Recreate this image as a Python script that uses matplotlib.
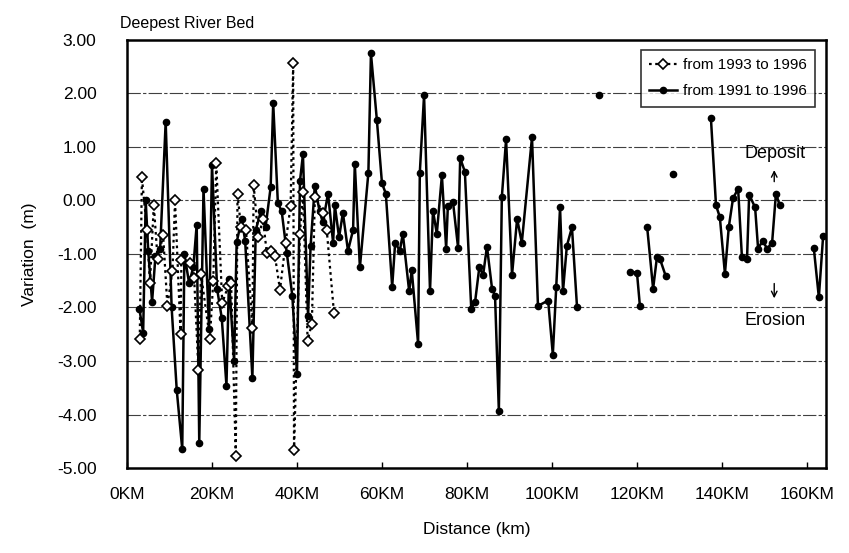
import numpy as np
import matplotlib.pyplot as plt

plt.rcParams['font.family'] = ['Liberation Sans', 'DejaVu Sans']

# from 1993 to 1996 (open diamonds, dotted)
km_93 = [3.0, 3.5, 4.7, 5.4, 6.3, 7.2, 8.5, 9.5, 10.7, 11.3, 12.6, 12.8, 14.8, 15.8,
         16.8, 17.4, 19.5, 20.3, 21.0, 22.4, 23.8, 24.5, 25.6, 26.0, 26.8, 28.0, 29.5,
         29.8, 30.9, 32.0, 32.9, 34.0, 34.8, 36.0, 37.3, 38.5, 39.1, 39.3, 40.7, 41.4,
         42.5, 43.5, 44.2, 46.1, 47.0, 48.7]
var_93 = [-2.58, 0.43, -0.56, -1.55, -0.08, -1.1, -0.65, -1.97, -1.31, 0.0, -2.49, -1.12,
          -1.16, -1.45, -3.16, -1.37, -2.58, -1.5, 0.7, -1.92, -1.6, -1.55, -4.78, 0.13,
          -0.5, -0.55, -2.38, 0.29, -0.69, -0.35, -0.99, -0.95, -1.03, -1.67, -0.8, -0.1,
          2.57, -4.67, -0.62, 0.15, -2.62, -2.3, 0.06, -0.23, -0.55, -2.1]

# from 1991 to 1996 (filled dots, solid); nan = gap in the record
km_91 = [2.9, 3.8, 4.4, 5.0, 5.9, 6.7, 7.8, 9.1, 10.5, 11.7, 13.0, 13.5, 14.6, 15.6,
         16.4, 17.0, 18.0, 19.3, 20.0, 21.2, 22.3, 23.4, 24.0, 25.2, 25.8, 27.0, 27.8,
         29.5, 30.3, 31.5, 32.6, 33.8, 34.4, 35.5, 36.4, 37.6, 38.9, 40.0, 40.7, 41.4,
         42.6, 43.2, 44.2, 45.3, 46.1, 47.3, 48.5, 48.9, 49.9, 50.8, 52.0, 53.2, 53.6,
         54.8, 56.8, 57.4, 58.8, 60.0, 60.9, 62.4, 63.1, 64.2, 64.9, 66.4, 67.0, 68.5,
         68.9, 69.9, 71.3, 72.0, 72.9, 74.1, 75.1, 75.5, 76.7, 77.9, 78.4, 79.5, 81.0,
         81.9, 82.9, 83.8, 84.7, 85.9, 86.6, 87.5, 88.2, 89.2, 90.6, 91.8, 92.9, 95.3,
         96.7, 99.1, 100.2, 101.0, 101.9, 102.6, 103.5, 104.7, 105.9, 108.0, 111.1,
         115.0, 118.4, 120.0, 120.7, 121.5, 122.4, 123.8, 124.7, 125.4, 126.8, 127.6,
         128.5, 133.0, 137.4, 138.6, 139.5, 140.7, 141.6, 142.6, 143.8, 144.7, 145.9,
         146.4, 147.8, 148.5, 149.6, 150.6, 151.8, 152.7, 153.6, 158.0, 161.6, 162.8,
         163.8]
var_91 = [-2.02, -2.47, 0.0, -0.95, -1.89, -1.03, -0.9, 1.47, -2.0, -3.54, -4.65, -1.0,
          -1.54, -1.25, -0.45, -4.53, 0.22, -2.41, 0.67, -1.65, -2.2, -3.46, -1.46, -3.0,
          -0.78, -0.35, -0.75, -3.31, -0.55, -0.2, -0.5, 0.25, 1.82, -0.05, -0.2, -0.98,
          -1.78, -3.24, 0.36, 0.86, -2.16, -0.85, 0.28, -0.2, -0.41, 0.13, -0.79, -0.09,
          -0.69, -0.23, -0.94, -0.55, 0.69, -1.25, 0.52, 2.75, 1.5, 0.32, 0.13, -1.61,
          -0.79, -0.94, -0.62, -1.7, -1.3, -2.68, 0.52, 1.97, -1.69, -0.19, -0.62, 0.47,
          -0.9, -0.1, -0.02, -0.88, 0.79, 0.54, -2.02, -1.9, -1.25, -1.39, -0.86, -1.65,
          -1.78, -3.93, 0.06, 1.14, -1.39, -0.34, -0.79, 1.18, -1.97, -1.87, -2.88, -1.62,
          -0.13, -1.69, -0.85, -0.5, -2.0, np.nan, 1.97, np.nan, -1.33, -1.35, -1.98,
          np.nan, -0.5, -1.65, -1.06, -1.09, -1.42, np.nan, 0.5, np.nan, 1.54, -0.09,
          -0.31, -1.37, -0.5, 0.04, 0.22, -1.06, -1.09, 0.11, -0.13, -0.9, -0.75, -0.9,
          -0.79, 0.13, -0.09, np.nan, -0.88, -1.81, -0.67]

x_ticks = [0, 20, 40, 60, 80, 100, 120, 140, 160]
x_labels = ['0KM', '20KM', '40KM', '60KM', '80KM', '100KM', '120KM', '140KM', '160KM']
y_ticks = [3, 2, 1, 0, -1, -2, -3, -4, -5]

fig = plt.figure(figsize=(8.49, 5.53), dpi=100)
ax = fig.add_axes([0.1496, 0.1537, 0.8234, 0.774])

for yv in y_ticks[1:-1]:
    ax.axhline(yv, color='0.25', lw=0.8, ls=(0, (12, 2, 3, 2)), zorder=0)

ax.plot(km_93, var_93, color='black', ls=(0, (1.2, 1.6)), lw=1.6, marker='D',
        ms=5, mfc='white', mec='black', mew=1.2, label='from 1993 to 1996', zorder=3)
ax.plot(km_91, var_91, color='black', ls='-', lw=1.8, marker='o', ms=4.5,
        mfc='black', mec='black', label='from 1991 to 1996', zorder=2)

ax.set_xlim(0, 164.5)
ax.set_ylim(-5, 3)
ax.set_xticks(x_ticks)
ax.set_xticklabels(x_labels)
ax.set_yticks(y_ticks)
ax.set_yticklabels(['%.2f' % v for v in y_ticks])
ax.tick_params(axis='x', direction='in', length=4, width=1, labelsize=12.5, pad=14)
ax.tick_params(axis='y', length=0, labelsize=12.5, pad=22)
for s in ax.spines.values():
    s.set_linewidth(1.8)

ax.set_xlabel('Distance (km)', fontsize=12.5, labelpad=14)
ax.set_ylabel('Variation  (m)', fontsize=12.5, labelpad=14)
ax.text(-0.01, 1.02, 'Deepest River Bed', transform=ax.transAxes, fontsize=11.5,
        ha='left', va='bottom')

ax.annotate('', xy=(152.3, 0.62), xytext=(152.3, 0.3),
            arrowprops=dict(arrowstyle='->', color='black', lw=1))
ax.text(152.5, 0.88, 'Deposit', fontsize=13, ha='center', va='center')
ax.annotate('', xy=(152.3, -1.88), xytext=(152.3, -1.5),
            arrowprops=dict(arrowstyle='->', color='black', lw=1))
ax.text(152.5, -2.25, 'Erosion', fontsize=13, ha='center', va='center')

leg = ax.legend(loc='upper right', bbox_to_anchor=(0.995, 0.995), fontsize=11,
                frameon=True, fancybox=False, edgecolor='black', handlelength=1.8,
                handletextpad=0.4, borderpad=0.55, labelspacing=0.8)
leg.get_frame().set_linewidth(1.2)

fig.savefig('out.png', dpi=100)
